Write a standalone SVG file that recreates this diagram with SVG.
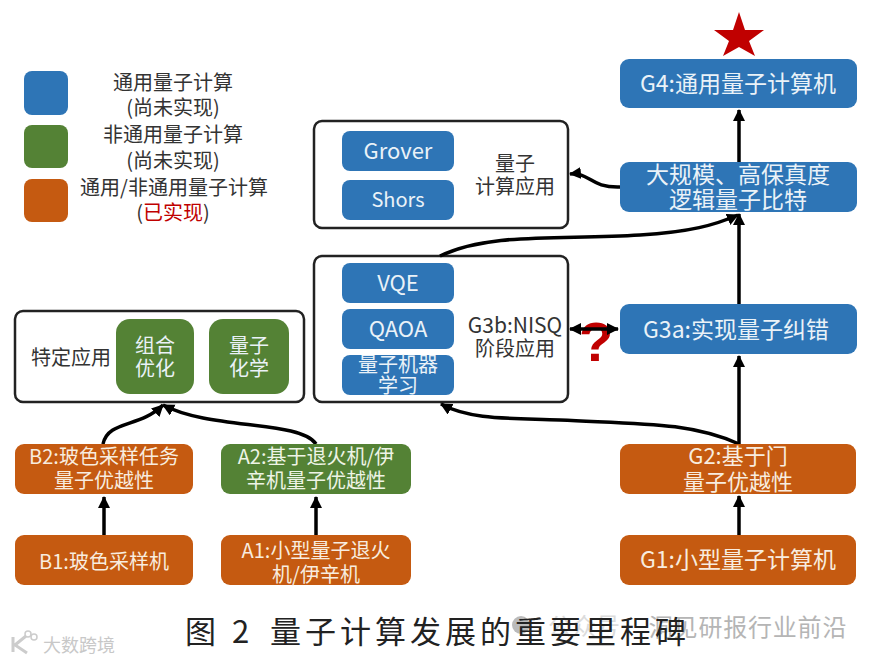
<svg xmlns="http://www.w3.org/2000/svg" width="875" height="662" viewBox="0 0 875 662">
<style>
text{font-family:"Noto Sans CJK SC","Noto Sans",sans-serif;text-anchor:middle}
.blue{fill:#2e75b6}.green{fill:#548235}.orange{fill:#c55a11}
.w{fill:#eaf2f8;font-size:20px}.m{fill:#eaf2f8;font-size:22px}.wl{fill:#eaf2f8;font-size:23px}
.o{fill:#f8ecdf;font-size:20px}.g{fill:#eef4e6;font-size:20px}
.k{fill:#333;font-size:20px}
.frame{fill:#fff;stroke:#222;stroke-width:2.5}
.c{fill:none;stroke:#000;stroke-width:3.5}
.cap{font-family:"Noto Sans CJK SC","Liberation Serif",serif;font-size:31px;fill:#222;text-anchor:start}
</style>
<defs>
<marker id="a" markerUnits="userSpaceOnUse" markerWidth="14" markerHeight="14" refX="11" refY="6" orient="auto-start-reverse"><path d="M0 0L12 6L0 12z" fill="#000"/></marker>
</defs>
<rect width="875" height="662" fill="#fff"/>
<g id="legend">
<rect class="blue" x="24" y="71" width="44" height="44" rx="8"/>
<rect class="green" x="24" y="125" width="44" height="43" rx="8"/>
<rect class="orange" x="24" y="179" width="44" height="43" rx="8"/>
<text class="k" x="173" y="90">通用量子计算</text>
<text class="k" x="173" y="115">(尚未实现)</text>
<text class="k" x="173" y="142">非通用量子计算</text>
<text class="k" x="173" y="168">(尚未实现)</text>
<text class="k" x="174" y="195">通用/非通用量子计算</text>
<text class="k" x="173" y="220">(<tspan fill="#c00000">已实现</tspan>)</text>
</g>
<g id="quantum-apps">
<rect class="frame" x="314" y="121" width="254" height="107" rx="8"/>
<rect class="blue" x="342" y="131" width="112" height="40" rx="8"/>
<text class="m" x="398" y="159">Grover</text>
<rect class="blue" x="342" y="180" width="112" height="40" rx="8"/>
<text class="w" x="398" y="207">Shors</text>
<text class="k" x="515" y="171">量子</text>
<text class="k" x="515" y="194">计算应用</text>
</g>
<g id="nisq-apps">
<rect class="frame" x="314" y="256" width="254" height="146" rx="8"/>
<rect class="blue" x="342" y="263" width="112" height="40" rx="8"/>
<text class="m" x="398" y="291">VQE</text>
<rect class="blue" x="342" y="309" width="112" height="40" rx="8"/>
<text class="m" x="398" y="337">QAOA</text>
<rect class="blue" x="342" y="355" width="112" height="40" rx="8"/>
<text class="w" x="398" y="372">量子机器</text>
<text class="w" x="398" y="393">学习</text>
<text class="k" style="font-size:21px" x="515" y="333">G3b:NISQ</text>
<text class="k" x="515" y="356">阶段应用</text>
</g>
<g id="special-apps">
<rect class="frame" x="15" y="311" width="289" height="91" rx="8"/>
<text class="k" x="71" y="365">特定应用</text>
<rect class="green" x="116" y="319" width="78" height="75" rx="14"/>
<text class="w" x="155" y="353">组合</text>
<text class="w" x="155" y="376">优化</text>
<rect class="green" x="209" y="319" width="80" height="75" rx="14"/>
<text class="w" x="249" y="353">量子</text>
<text class="w" x="249" y="376">化学</text>
</g>
<g id="question">
<text x="596" y="361" font-size="56" font-weight="700" fill="#c00000" style="font-family:'Liberation Sans',sans-serif">?</text>
</g>
<g id="connectors">
<path class="c" d="M739 162V110" marker-end="url(#a)"/>
<path class="c" d="M739 304V214" marker-end="url(#a)"/>
<path class="c" d="M739 444V356" marker-end="url(#a)"/>
<path class="c" d="M739 535V496" marker-end="url(#a)"/>
<path class="c" d="M620 187C590 188 590 172 570 174" marker-end="url(#a)"/>
<path class="c" d="M440 256C490 232 560 240 640 235C690 232 715 225 738 215" marker-end="url(#a)"/>
<path class="c" d="M739 444C690 422 640 424 560 420C510 418 470 420 441 404" marker-end="url(#a)"/>
<path class="c" d="M570 329H618" marker-start="url(#a)" marker-end="url(#a)"/>
<path class="c" d="M103 444C108 420 140 428 163 405" marker-end="url(#a)"/>
<path class="c" d="M316 444C300 420 210 430 163 405" marker-end="url(#a)"/>
<path class="c" d="M104 535V497" marker-end="url(#a)"/>
<path class="c" d="M316 535V497" marker-end="url(#a)"/>
</g>
<g id="star"><path d="M739 12L745 30H764L749 41L755 56L739 47L723 56L729 41L714 30H733z" fill="#c00000"/></g>
<g id="g4"><rect class="blue" x="620" y="59" width="237" height="49" rx="9"/><text class="wl" x="738" y="92">G4:通用量子计算机</text></g>
<g id="logical"><rect class="blue" x="620" y="162" width="237" height="50" rx="9"/><text class="wl" x="738" y="183">大规模、高保真度</text><text class="wl" x="738" y="208">逻辑量子比特</text></g>
<g id="g3a"><rect class="blue" x="620" y="304" width="237" height="50" rx="9"/><text class="wl" x="736" y="338">G3a:实现量子纠错</text></g>
<g id="g2"><rect class="orange" x="620" y="444" width="236" height="50" rx="9"/><text class="o" style="font-size:22px" x="738" y="464">G2:基于门</text><text class="o" style="font-size:22px" x="738" y="490">量子优越性</text></g>
<g id="g1"><rect class="orange" x="620" y="535" width="236" height="50" rx="9"/><text class="o" style="font-size:23px" x="738" y="568">G1:小型量子计算机</text></g>
<g id="b2"><rect class="orange" x="15" y="444" width="178" height="50" rx="9"/><text class="o" x="104" y="464">B2:玻色采样任务</text><text class="o" x="104" y="488">量子优越性</text></g>
<g id="a2"><rect class="green" x="221" y="444" width="190" height="50" rx="9"/><text class="g" x="316" y="464">A2:基于退火机/伊</text><text class="g" x="316" y="488">辛机量子优越性</text></g>
<g id="b1"><rect class="orange" x="15" y="535" width="178" height="50" rx="9"/><text class="o" x="104" y="569">B1:玻色采样机</text></g>
<g id="a1"><rect class="orange" x="221" y="535" width="190" height="50" rx="9"/><text class="o" x="316" y="558">A1:小型量子退火</text><text class="o" x="316" y="582">机/伊辛机</text></g>
<g id="watermarks">
<circle cx="521" cy="625" r="9" fill="#bbb"/>
<text x="584" y="635" font-size="24" fill="#dcdcdc">公众号</text>
<text x="748" y="636" font-size="24" letter-spacing="0.8" fill="#b5b5b5">洞见研报行业前沿</text>
<path d="M13 637V652M26 636L15 645L27 653" fill="none" stroke="#ccc" stroke-width="3"/>
<circle cx="28" cy="634" r="3" fill="none" stroke="#ccc" stroke-width="1.5"/>
<circle cx="34" cy="637" r="3" fill="none" stroke="#ccc" stroke-width="1.5"/>
<text x="79" y="652" font-size="18" fill="#c8c8c8">大数跨境</text>
</g>
<g id="caption">
<text class="cap" y="643"><tspan x="185">图</tspan><tspan x="232">2</tspan><tspan x="270">量</tspan><tspan x="305">子</tspan><tspan x="340">计</tspan><tspan x="375">算</tspan><tspan x="410">发</tspan><tspan x="445">展</tspan><tspan x="480">的</tspan><tspan x="515">重</tspan><tspan x="550">要</tspan><tspan x="585">里</tspan><tspan x="620">程</tspan><tspan x="655">碑</tspan></text>
</g>
</svg>
